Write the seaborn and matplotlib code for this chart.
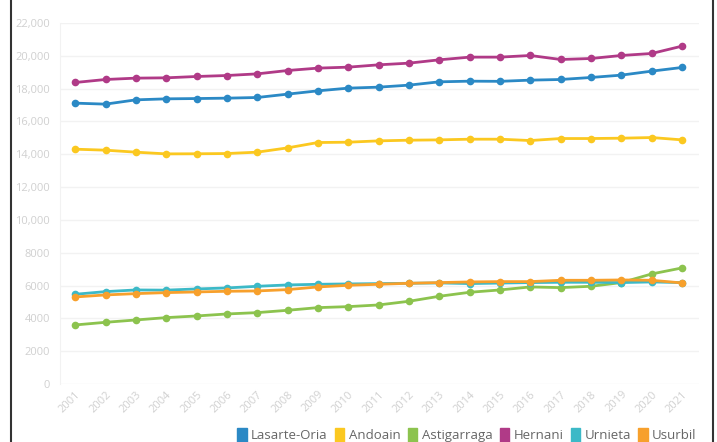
import numpy as np
import pandas as pd
import matplotlib
matplotlib.use("Agg")
import matplotlib.pyplot as plt
import matplotlib.ticker as mticker
from matplotlib.patches import Patch
from matplotlib.lines import Line2D
import seaborn as sns

years = list(range(2001, 2022))

lasarte = [17116, 17055, 17317, 17378, 17396, 17420, 17460, 17665, 17866, 18030,
           18090, 18213, 18415, 18455, 18445, 18518, 18557, 18680, 18823, 19066, 19290]
andoain = [14310, 14250, 14128, 14024, 14030, 14045, 14128, 14390, 14716, 14736,
           14817, 14858, 14878, 14919, 14919, 14837, 14960, 14960, 14980, 15020, 14878]
astigarraga = [3598, 3760, 3902, 4045, 4146, 4268, 4350, 4492, 4654, 4715,
               4817, 5041, 5346, 5589, 5732, 5915, 5874, 5955, 6180, 6707, 7073]
hernani = [18374, 18557, 18640, 18659, 18740, 18800, 18900, 19105, 19250, 19309,
           19451, 19553, 19756, 19920, 19920, 20020, 19776, 19837, 20020, 20142, 20590]
urnieta = [5468, 5630, 5732, 5720, 5793, 5854, 5955, 6037, 6077, 6098,
           6118, 6138, 6159, 6120, 6150, 6180, 6200, 6200, 6180, 6220, 6180]
usurbil = [5305, 5427, 5508, 5569, 5610, 5650, 5671, 5752, 5915, 6016,
           6077, 6138, 6180, 6220, 6240, 6240, 6321, 6321, 6341, 6321, 6159]

towns = ["Lasarte-Oria", "Andoain", "Astigarraga", "Hernani", "Urnieta", "Usurbil"]
colors = ["#2b89c5", "#fbc820", "#8cc34e", "#b03a87", "#3cb9c7", "#f7a02c"]

series = [lasarte, andoain, astigarraga, hernani, urnieta, usurbil]
rows = []
for town, vals in zip(towns, series):
    for y, v in zip(years, vals):
        rows.append({"year": y, "town": town, "value": v})
df = pd.DataFrame(rows)

sns.set_style("white")
plt.rcParams["font.family"] = ["Open Sans", "DejaVu Sans"]

fig = plt.figure(figsize=(7.17, 4.42), dpi=100)
ax = fig.add_axes([60 / 717, 1 - 384 / 442, (699 - 60) / 717, (384 - 23) / 442])

# draw order so the top lines sit over the lower ones like the reference
order = ["Astigarraga", "Urnieta", "Usurbil", "Andoain", "Lasarte-Oria", "Hernani"]
pal = dict(zip(towns, colors))
for t in order:
    sub = df[df["town"] == t]
    sns.lineplot(data=sub, x="year", y="value", color=pal[t], linewidth=2,
                 marker="o", markersize=5.5, markeredgewidth=0, ax=ax, legend=False)

ax.set_xlim(2000.5, 2021.56)
ax.set_ylim(0, 22000)
ax.set_xticks(years)
ax.set_yticks(range(0, 22001, 2000))
ax.yaxis.set_major_formatter(mticker.FuncFormatter(
    lambda v, p: f"{int(v):,}" if v >= 10000 else f"{int(v)}"))
ax.set_xlabel("")
ax.set_ylabel("")
ax.grid(axis="y", color="#f2f2f2", linewidth=1)
ax.grid(axis="x", visible=False)
for s in ["top", "right", "bottom"]:
    ax.spines[s].set_visible(False)
ax.spines["left"].set_color("#f2f2f2")
ax.tick_params(axis="both", length=0, colors="#d0d0d0", labelsize=8)
ax.tick_params(axis="y", pad=7)
plt.setp(ax.get_xticklabels(), rotation=45, ha="right", rotation_mode="anchor")

handles = [Patch(facecolor=c, edgecolor=c, label=t) for t, c in zip(towns, colors)]
fig.legend(handles=handles, loc="upper right", bbox_to_anchor=(702 / 717, 1 - 423 / 442),
           ncol=6, frameon=False, fontsize=9.5, labelcolor="#666666",
           handlelength=0.7, handleheight=1.2, handletextpad=0.35, columnspacing=0.55,
           borderaxespad=0)

# frame lines of the cropped screenshot
fig.add_artist(Line2D([11 / 717, 11 / 717], [0, 1], color="#333333", linewidth=1.5))
fig.add_artist(Line2D([713 / 717, 713 / 717], [0, 1], color="#333333", linewidth=1.5))

fig.savefig("out.png", dpi=100)
